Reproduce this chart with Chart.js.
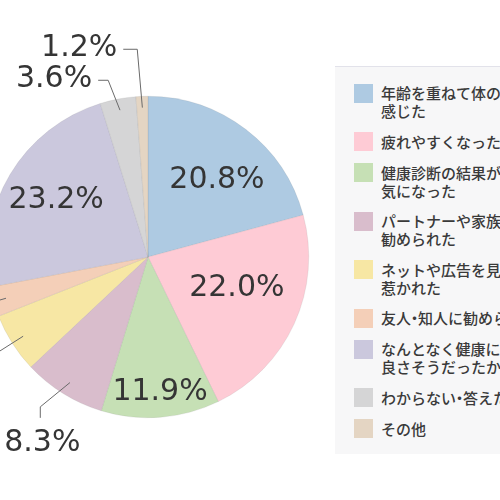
<!DOCTYPE html>
<html><head><meta charset="utf-8">
<script src="https://cdn.jsdelivr.net/npm/chart.js@4"></script>
<style>
html,body{margin:0;padding:0;width:500px;height:500px;overflow:hidden;background:#fff;}
#wrap{position:absolute;left:-152px;top:-43px;width:600px;height:600px;}
#legend{position:absolute;left:335px;top:66px;width:320px;height:388px;background:#f7f7f8;border-top:1px solid #e2e2ea;box-sizing:border-box;padding:17px 0 0 19px;font-family:"Noto Sans CJK JP Medium","Noto Sans CJK JP","Noto Sans",sans-serif;font-size:15px;font-weight:500;color:#3a3a3a;}
.item{display:flex;align-items:flex-start;margin-bottom:12.5px;white-space:nowrap;}
.sw{width:19px;height:19px;flex:none;margin-right:8px;margin-top:-0.5px;}
.tx{line-height:18px;}
.dot{margin:0 -4px;}
</style></head>
<body>
<div id="wrap"><canvas id="c" width="600" height="600"></canvas></div>
<div id="legend"></div>
<script>
const categories = [
  "年齢を重ねて体の変化を\n感じた",
  "疲れやすくなった",
  "健康診断の結果が\n気になった",
  "パートナーや家族に\n勧められた",
  "ネットや広告を見て\n惹かれた",
  "友人・知人に勧められた",
  "なんとなく健康に\n良さそうだったから",
  "わからない・答えたくない",
  "その他"
];
const values = [20.8, 22.0, 11.9, 8.3, 6.0, 3.0, 23.2, 3.6, 1.2];
const colors = ["#aecae2","#fecbd5","#c6e0b5","#d9bdcc","#f7e7a4","#f4cfb8","#cbc8dd","#d5d5d6","#e4d5c3"];

// label placement styles (per slice index)
const labelStyle = [
  {mode:"in", r:0.642, da:4.5},
  {mode:"in", r:0.585, da:-5.3},
  {mode:"in", r:0.842, da:-0.6},
  {mode:"out", start:0.92, elbowR:1.148, elbowDA:3.85, tail:"down", len:11},
  {mode:"out", start:0.92, elbowR:1.3, elbowDA:0, tail:"left", len:14},
  {mode:"out", start:0.92, elbowR:1.3, elbowDA:0, tail:"left", len:14},
  {mode:"in", r:0.672, da:0.8},
  {mode:"out", start:0.93, elbowR:1.127, elbowDA:-1.9, tail:"left", len:10},
  {mode:"out", start:0.93, elbowR:1.294, elbowDA:-0.8, tail:"left", len:14}
];

// HTML legend built from arrays
const lg = document.getElementById("legend");
categories.forEach((c,i)=>{
  const it=document.createElement("div");it.className="item";
  const sw=document.createElement("div");sw.className="sw";sw.style.background=colors[i];
  const tx=document.createElement("div");tx.className="tx";
  tx.innerHTML=c.split("\n").join("<br>").split("・").join('<span class="dot">・</span>');
  it.appendChild(sw);it.appendChild(tx);lg.appendChild(it);
});

const pctPlugin = {
  id:"pct",
  afterDatasetsDraw(chart){
    const ctx=chart.ctx;
    const meta=chart.getDatasetMeta(0);
    ctx.save();
    ctx.fillStyle="#353535";
    ctx.font="400 30px 'DejaVu Sans', sans-serif";
    meta.data.forEach((arc,i)=>{
      const p=arc.getProps(["x","y","startAngle","endAngle","outerRadius"],true);
      const mid=(p.startAngle+p.endAngle)/2;
      const R=p.outerRadius;
      const s=labelStyle[i];
      const txt=values[i].toFixed(1)+"%";
      if(s.mode==="in"){
        const a=mid+s.da*Math.PI/180;
        ctx.textAlign="center";ctx.textBaseline="middle";
        ctx.fillText(txt,p.x+Math.cos(a)*R*s.r,p.y+Math.sin(a)*R*s.r);
      } else {
        const sx=p.x+Math.cos(mid)*R*s.start, sy=p.y+Math.sin(mid)*R*s.start;
        const ea=mid+s.elbowDA*Math.PI/180;
        const ex=p.x+Math.cos(ea)*R*s.elbowR, ey=p.y+Math.sin(ea)*R*s.elbowR;
        let tx=ex, ty=ey;
        if(s.tail==="left") tx=ex-s.len; else ty=ey+s.len;
        ctx.strokeStyle="#6a6a6a";ctx.lineWidth=1;
        ctx.beginPath();ctx.moveTo(sx,sy);ctx.lineTo(ex,ey);ctx.lineTo(tx,ty);ctx.stroke();
        if(s.tail==="left"){
          ctx.textAlign="right";ctx.textBaseline="middle";
          ctx.fillText(txt,tx-6,ty-1);
        } else {
          ctx.textAlign="center";ctx.textBaseline="middle";
          ctx.fillText(txt,tx+2,ty+25);
        }
      }
    });
    ctx.restore();
  }
};

new Chart(document.getElementById("c"),{
  type:"pie",
  data:{labels:categories.map(c=>c.replace("\n","")),datasets:[{data:values,backgroundColor:colors,borderWidth:0.5,borderColor:"rgba(120,120,120,0.25)"}]},
  options:{
    responsive:false,animation:false,
    layout:{padding:139},
    plugins:{legend:{display:false},tooltip:{enabled:false}}
  },
  plugins:[pctPlugin]
});
</script>
</body></html>
